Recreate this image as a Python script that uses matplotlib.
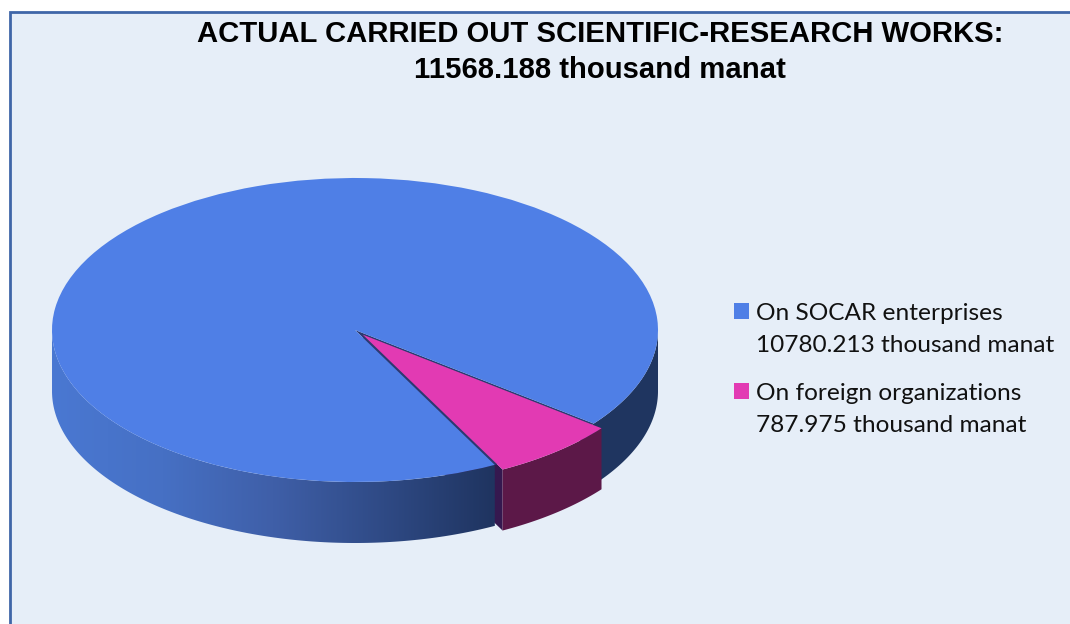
import numpy as np
import matplotlib
matplotlib.use("Agg")
import matplotlib.pyplot as plt
from matplotlib.colors import LinearSegmentedColormap
from matplotlib.patches import Polygon, Rectangle

# ---- data ----
title_lines = ["ACTUAL CARRIED OUT SCIENTIFIC-RESEARCH WORKS:", "11568.188 thousand manat"]
categories = ["On SOCAR enterprises", "On foreign organizations"]
value_labels = ["10780.213 thousand manat", "787.975 thousand manat"]
values = [10780.213, 787.975]
explode = [0, 0.04]
top_colors = ["#4f7fe6", "#e23ab3"]

W, H = 1070, 624
CX, CY, RX, RY, DEPTH = 355, 330, 303, 152, 61
BG = "#e6eef8"
FRAME = "#3f66a8"

fig = plt.figure(figsize=(W / 100, H / 100), dpi=100, facecolor="white")
ax = fig.add_axes([0, 0, 1, 1])
wedges, _ = ax.pie(values, colors=top_colors, startangle=-38, counterclock=True,
                   explode=explode, radius=1, center=(0, 0))
ax.set_aspect("auto")
ax.set_xlim(-CX / RX, (W - CX) / RX)
ax.set_ylim(-(H - CY) / RY, CY / RY)
ax.axis("off")
xlim, ylim = ax.get_xlim(), ax.get_ylim()
px = lambda x, y: (x / W, 1 - y / H)

# panel: open on the right and at the bottom (runs past the picture edge)
ax.add_patch(Rectangle(px(9.5, H + 10), (W + 10 - 9.5) / W, (H + 10 - 11.5) / H, transform=ax.transAxes,
                       facecolor=BG, edgecolor=FRAME, linewidth=2.0, zorder=0, clip_on=True))

d = DEPTH / RY


def arc(center, r, a0, a1, dy=0.0, n=160):
    t = np.radians(np.linspace(a0, a1, n))
    return np.column_stack([center[0] + r * np.cos(t), center[1] + r * np.sin(t) - dy])


def wall(center, r, a0, a1):
    return np.vstack([arc(center, r, a0, a1), arc(center, r, a0, a1, d)[::-1]])


blue, pink = wedges

# inner cut face of the exploded slice (only its outer end shows past the blue wall)
pc = pink.center
corner = arc(pc, pink.r, pink.theta1, pink.theta1, n=1)[0]
ax.add_patch(Polygon([pc, corner, corner - [0, d], (pc[0], pc[1] - d)], closed=True,
                     facecolor="#35184f", edgecolor="none", zorder=0.5))

# gradient wall on the left/front part
cmap = LinearSegmentedColormap.from_list(
    "wall", [(0, "#4a78d2"), (0.25, "#4670c4"), (0.5, "#3f5fa8"), (0.75, "#2f4a85"), (1, "#1f3460")])
left = blue.center[0] - blue.r
x_end = blue.center[0] + blue.r * np.cos(np.radians(blue.theta2))
grad = ax.imshow(np.linspace(0, 1, 256)[None, :], cmap=cmap, aspect="auto",
                 extent=(left, x_end, -1 - d - 0.02, 0.05), zorder=1, interpolation="bilinear")
poly_l = Polygon(wall(blue.center, blue.r, 180, blue.theta2), closed=True, transform=ax.transData,
                 facecolor="none", edgecolor="none")
ax.add_patch(poly_l)
grad.set_clip_path(poly_l)

# dark wall on the right part
ax.add_patch(Polygon(wall(blue.center, blue.r, pink.theta2 - 4, 360), closed=True,
                     facecolor="#1f3560", edgecolor="none", zorder=1))

# the gap the exploded slice leaves in the top
ax.add_patch(Polygon(np.vstack([[blue.center], arc(blue.center, blue.r, pink.theta1, pink.theta2)]),
                     closed=True, facecolor="#2c3a70", edgecolor="none", zorder=2))

blue.set_zorder(3)
# exploded slice wall and top
ax.add_patch(Polygon(wall(pc, pink.r, pink.theta1, pink.theta2), closed=True,
                     facecolor="#5c1848", edgecolor="none", zorder=4))
pink.set_zorder(5)

ax.set_xlim(xlim)
ax.set_ylim(ylim)

# title
for line, y in zip(title_lines, (34.5, 69.5)):
    ax.text(*px(600, y), line, transform=ax.transAxes, ha="center", va="center",
            family="Liberation Sans", fontweight="bold", fontsize=21.1, color="black", zorder=6)

# legend
rows = [(303, 314, 345), (383, 393, 425)]
for (sq, y1, y2), cat, val, col in zip(rows, categories, value_labels, top_colors):
    ax.add_patch(Rectangle(px(733.5, sq + 16), 15.5 / W, 16 / H, transform=ax.transAxes,
                           facecolor=col, edgecolor="none", zorder=6))
    ax.text(*px(755.5, y1), cat, transform=ax.transAxes, va="center", family="Lato",
            fontsize=17.6, color="#111111", zorder=6)
    ax.text(*px(755.5, y2), val, transform=ax.transAxes, va="center", family="Lato",
            fontsize=17.6, color="#111111", zorder=6)

fig.savefig("out.png", dpi=100, facecolor="white")
